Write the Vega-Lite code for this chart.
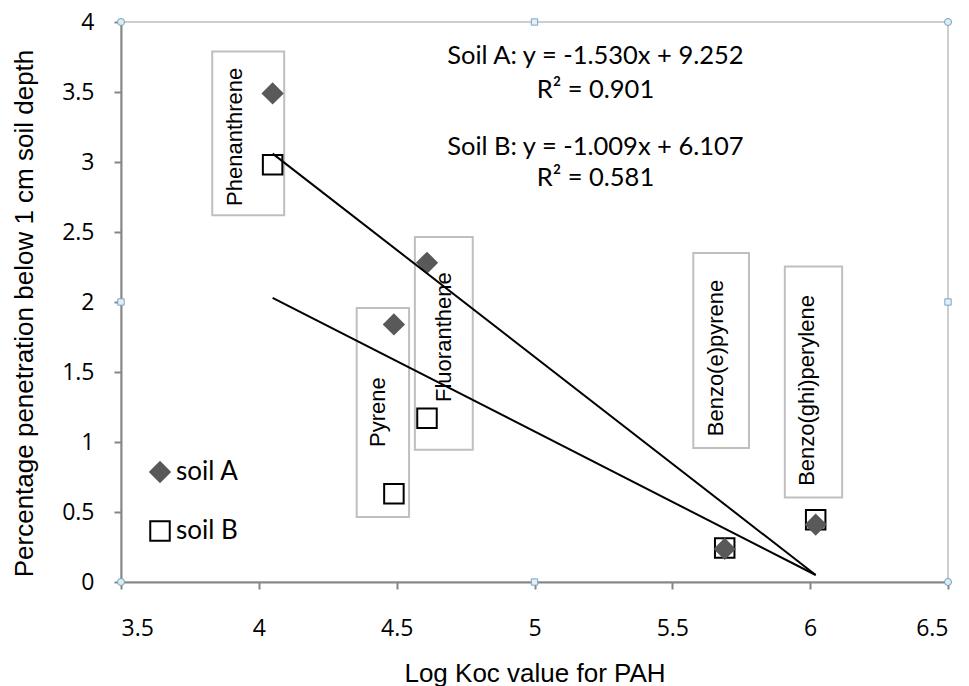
{
  "$schema": "https://vega.github.io/schema/vega-lite/v6.json",
  "width": 827,
  "height": 560,
  "autosize": {"type": "none"},
  "padding": {"left": 121, "top": 22, "right": 21, "bottom": 104},
  "background": "white",
  "config": {
    "view": {"stroke": "#bfbfbf", "strokeWidth": 1.5},
    "axis": {
      "grid": false,
      "domainColor": "#868686",
      "domainWidth": 2,
      "tickColor": "#868686",
      "tickWidth": 2,
      "tickSize": 7,
      "labelFont": "Open Sans",
      "labelFontSize": 23,
      "labelColor": "#000000",
      "titleFont": "Liberation Sans",
      "titleFontSize": 26,
      "titleFontWeight": "normal",
      "titleColor": "#000000"
    }
  },
  "datasets": {
    "points": [
      {"compound": "Phenanthrene", "soil": "soil B", "logKoc": 4.05, "penetration": 2.98},
      {"compound": "Pyrene", "soil": "soil B", "logKoc": 4.49, "penetration": 0.63},
      {"compound": "Fluoranthene", "soil": "soil B", "logKoc": 4.61, "penetration": 1.17},
      {"compound": "Benzo(e)pyrene", "soil": "soil B", "logKoc": 5.69, "penetration": 0.243},
      {"compound": "Benzo(ghi)perylene", "soil": "soil B", "logKoc": 6.02, "penetration": 0.445},
      {"compound": "Phenanthrene", "soil": "soil A", "logKoc": 4.05, "penetration": 3.49},
      {"compound": "Pyrene", "soil": "soil A", "logKoc": 4.49, "penetration": 1.84},
      {"compound": "Fluoranthene", "soil": "soil A", "logKoc": 4.61, "penetration": 2.28},
      {"compound": "Benzo(e)pyrene", "soil": "soil A", "logKoc": 5.69, "penetration": 0.236},
      {"compound": "Benzo(ghi)perylene", "soil": "soil A", "logKoc": 6.02, "penetration": 0.41}
    ],
    "labels": [
      {"compound": "Phenanthrene", "logKoc": 3.913, "penetration": 3.18, "boxX1": 3.831, "boxX2": 4.092, "boxY1": 3.79, "boxY2": 2.619},
      {"compound": "Pyrene", "logKoc": 4.433, "penetration": 1.213, "boxX1": 4.355, "boxX2": 4.545, "boxY1": 1.957, "boxY2": 0.464},
      {"compound": "Fluoranthene", "logKoc": 4.672, "penetration": 1.749, "boxX1": 4.566, "boxX2": 4.776, "boxY1": 2.464, "boxY2": 0.945},
      {"compound": "Benzo(e)pyrene", "logKoc": 5.657, "penetration": 1.6, "boxX1": 5.576, "boxX2": 5.778, "boxY1": 2.35, "boxY2": 0.957},
      {"compound": "Benzo(ghi)perylene", "logKoc": 5.99, "penetration": 1.368, "boxX1": 5.908, "boxX2": 6.116, "boxY1": 2.254, "boxY2": 0.604}
    ],
    "fits": [
      {"series": "Soil A", "logKoc": 4.05, "penetration": 3.06},
      {"series": "Soil A", "logKoc": 6.02, "penetration": 0.05},
      {"series": "Soil B", "logKoc": 4.05, "penetration": 2.03},
      {"series": "Soil B", "logKoc": 6.02, "penetration": 0.05}
    ],
    "notes": [
      {"note": "Soil A: y = -1.530x + 9.252", "logKoc": 5.221, "penetration": 3.7},
      {"note": "R² = 0.901", "logKoc": 5.221, "penetration": 3.457},
      {"note": "Soil B: y = -1.009x + 6.107", "logKoc": 5.221, "penetration": 3.052},
      {"note": "R² = 0.581", "logKoc": 5.221, "penetration": 2.826}
    ],
    "cornerHandles": [
      {"logKoc": 3.5, "penetration": 4},
      {"logKoc": 6.5, "penetration": 4},
      {"logKoc": 3.5, "penetration": 0},
      {"logKoc": 6.5, "penetration": 0}
    ],
    "midHandles": [
      {"logKoc": 5, "penetration": 4},
      {"logKoc": 5, "penetration": 0},
      {"logKoc": 3.5, "penetration": 2},
      {"logKoc": 6.5, "penetration": 2}
    ]
  },
  "encoding": {
    "x": {
      "field": "logKoc",
      "type": "quantitative",
      "scale": {"domain": [3.5, 6.5], "nice": false, "zero": false},
      "axis": {
        "title": "Log Koc value for PAH",
        "values": [3.5, 4, 4.5, 5, 5.5, 6, 6.5],
        "format": "~g",
        "labelPadding": 46,
        "labelBaseline": "alphabetic",
        "titleY": 99,
        "titleBaseline": "alphabetic"
      }
    },
    "y": {
      "field": "penetration",
      "type": "quantitative",
      "scale": {"domain": [0, 4], "nice": false, "zero": false},
      "axis": {
        "title": "Percentage penetration below 1 cm soil depth",
        "values": [0, 0.5, 1, 1.5, 2, 2.5, 3, 3.5, 4],
        "format": "~g",
        "labelPadding": 20,
        "titleX": -88.5,
        "titleY": 291,
        "titleAngle": 270,
        "titleAlign": "center",
        "titleBaseline": "alphabetic"
      }
    }
  },
  "layer": [
    {
      "data": {"name": "labels"},
      "mark": {"type": "rect", "fill": "transparent", "stroke": "#bfbfbf", "strokeWidth": 2},
      "encoding": {
        "x": {"field": "boxX1", "type": "quantitative"},
        "x2": {"field": "boxX2"},
        "y": {"field": "boxY1", "type": "quantitative"},
        "y2": {"field": "boxY2"}
      }
    },
    {
      "data": {"name": "labels"},
      "mark": {"type": "text", "angle": 270, "font": "Liberation Sans", "fontSize": 22, "align": "center", "baseline": "middle", "color": "#000000"},
      "encoding": {
        "text": {"field": "compound"}
      }
    },
    {
      "data": {"name": "points"},
      "mark": {"type": "point", "size": 380, "strokeWidth": 2, "opacity": 1},
      "encoding": {
        "shape": {
          "field": "soil", "type": "nominal",
          "scale": {"domain": ["soil A", "soil B"], "range": ["diamond", "square"]},
          "legend": {"orient": "none", "legendX": 26, "legendY": 437, "title": null, "labelFont": "Lato", "labelFontSize": 26, "labelColor": "#000000", "symbolSize": 380, "symbolStrokeWidth": 2, "symbolOpacity": 1, "rowPadding": 31, "padding": 0, "labelOffset": 3}
        },
        "fill": {
          "field": "soil", "type": "nominal",
          "scale": {"domain": ["soil A", "soil B"], "range": ["#595959", "transparent"]},
          "legend": {"orient": "none", "legendX": 26, "legendY": 437, "title": null, "labelFont": "Lato", "labelFontSize": 26, "labelColor": "#000000", "symbolSize": 380, "symbolStrokeWidth": 2, "symbolOpacity": 1, "rowPadding": 31, "padding": 0, "labelOffset": 3}
        },
        "stroke": {
          "field": "soil", "type": "nominal",
          "scale": {"domain": ["soil A", "soil B"], "range": ["#595959", "#000000"]},
          "legend": {"orient": "none", "legendX": 26, "legendY": 437, "title": null, "labelFont": "Lato", "labelFontSize": 26, "labelColor": "#000000", "symbolSize": 380, "symbolStrokeWidth": 2, "symbolOpacity": 1, "rowPadding": 31, "padding": 0, "labelOffset": 3}
        },
        "order": {"field": "soil", "sort": "descending"}
      }
    },
    {
      "data": {"name": "fits"},
      "mark": {"type": "line", "color": "#000000", "strokeWidth": 2},
      "encoding": {
        "detail": {"field": "series"}
      }
    },
    {
      "data": {"name": "notes"},
      "mark": {"type": "text", "font": "Lato", "fontSize": 25.5, "align": "center", "baseline": "alphabetic", "color": "#000000"},
      "encoding": {
        "text": {"field": "note"}
      }
    },
    {
      "data": {"name": "cornerHandles"},
      "mark": {"type": "point", "shape": "circle", "size": 50, "filled": true, "fill": "#d6eef6", "stroke": "#7f9db5", "strokeWidth": 1, "opacity": 1}
    },
    {
      "data": {"name": "midHandles"},
      "mark": {"type": "point", "shape": "square", "size": 40, "filled": true, "fill": "#dff0fa", "stroke": "#7fa3c0", "strokeWidth": 1, "opacity": 1}
    }
  ]
}
